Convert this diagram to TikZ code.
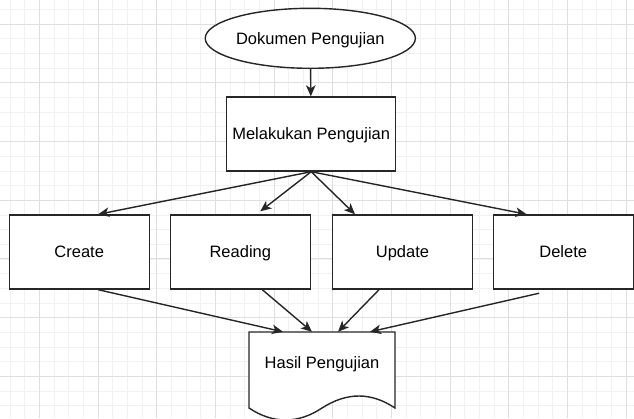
\documentclass[tikz,border=0pt]{standalone}
\usepackage{fontspec}
\setmainfont{Liberation Sans}
\usetikzlibrary{shapes.geometric,arrows.meta,positioning}

\begin{document}
\begin{tikzpicture}[x=1pt,y=-1pt,
  every node/.style={font=\fontsize{16.5}{18}\selectfont,text height=11.8pt,text depth=0pt},
  frame/.style={draw=black!85,line width=1.4pt,fill=white},
  crud/.style={frame,rectangle,minimum width=140pt,minimum height=74pt},
  arr/.style={draw=black!85,line width=1.4pt,-{Stealth[length=11pt,width=9.5pt,inset=3pt]}},
  gridminor/.style={draw=gray!11,line width=1pt},
  gridmajor/.style={draw=gray!25,line width=1pt}]
  \useasboundingbox (0,0) rectangle (634,418);
  \fill[white] (0,0) rectangle (634,418);
  % grid
  \foreach \i in {0,...,42} \draw[gridminor] ({10+14.67*\i},0) -- ++(0,418);
  \foreach \i in {0,...,27} \draw[gridminor] (0,{9.63+14.67*\i}) -- ++(634,0);
  \foreach \i in {0,...,10} \draw[gridmajor] ({39.33+58.67*\i},0) -- ++(0,418);
  \foreach \i in {0,...,6} \draw[gridmajor] (0,{24.3+58.67*\i}) -- ++(634,0);

  \node[frame,ellipse,inner sep=0pt,minimum width=206pt,minimum height=60pt] (dokumen) at (310.3,38.3) {Dokumen Pengujian};
  \node[frame,rectangle,minimum width=169pt,minimum height=74pt] (pengujian) at (311.2,134) {Melakukan Pengujian};

  \node[crud] (create) at (79.2,252) {Create};
  \node[crud] (reading) at (240.3,252) {Reading};
  \node[crud] (update) at (402.5,252) {Update};
  \node[crud] (delete) at (563.2,252) {Delete};

  % dokumen hasil
  \draw[frame] (249,332) -- (395,332) -- (395,408)
    .. controls (371,392) and (347,392) .. (322,408)
    .. controls (298,424) and (273,424) .. (249,408) -- cycle;
  \node[minimum width=146pt,minimum height=62pt] (hasil) at (322,363) {Hasil Pengujian};

  \draw[arr] (dokumen) -- (pengujian);
  \draw[arr] (pengujian.south) -- ([xshift=19pt]create.north);
  \draw[arr] (pengujian.south) -- ([xshift=20pt,yshift=3pt]reading.north);
  \draw[arr] (pengujian.south) -- ([xshift=-47.5pt]update.north);
  \draw[arr] (pengujian.south) -- ([xshift=-36.5pt]delete.north);

  \draw[arr] ([xshift=19pt]create.south) -- ([xshift=-39pt]hasil.north);
  \draw[arr] ([xshift=22pt]reading.south) -- ([xshift=-10pt]hasil.north);
  \draw[arr] ([xshift=-23.5pt]update.south) -- ([xshift=16pt]hasil.north);
  \draw[arr] ([xshift=-24pt,yshift=-3.5pt]delete.south) -- ([xshift=48pt]hasil.north);
\end{tikzpicture}
\end{document}
